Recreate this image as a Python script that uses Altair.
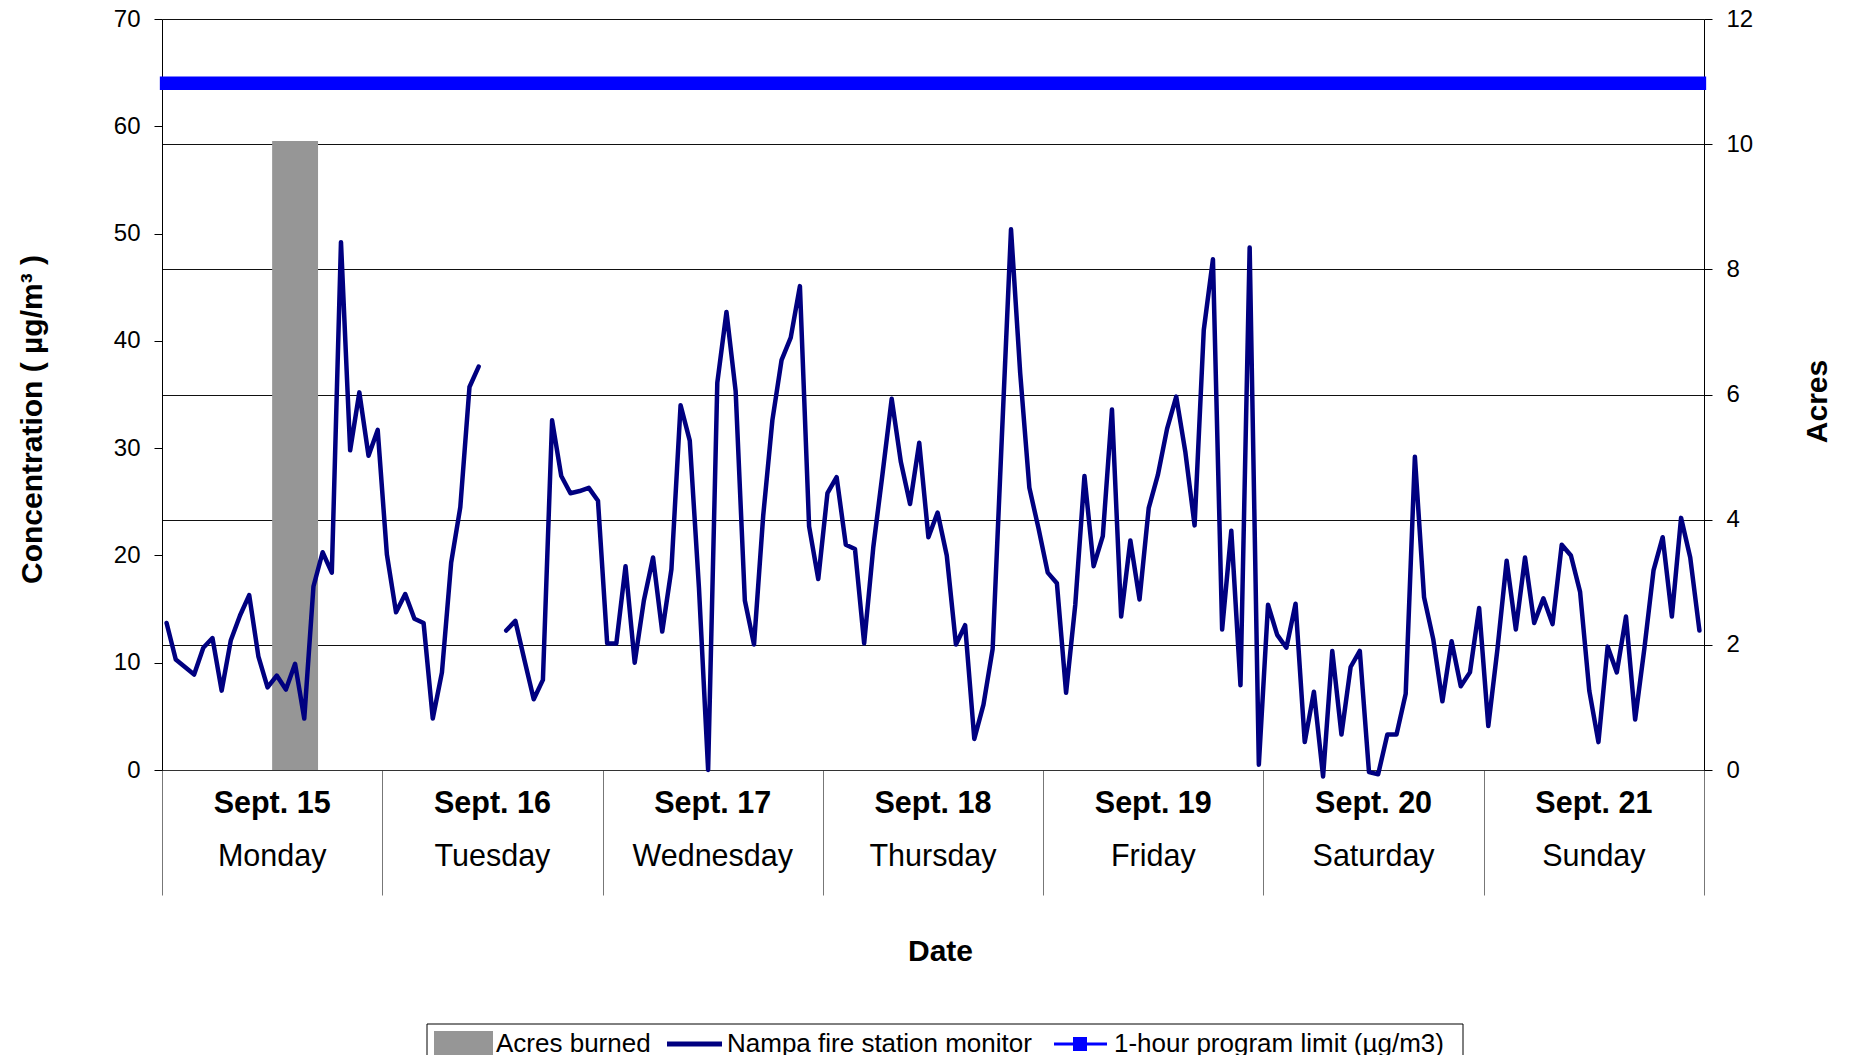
import altair as alt
import pandas as pd

# ---------------- data ----------------
monday = [13.7, 10.3, 9.6, 8.9, 11.4, 12.3, 7.4, 12.1, 14.4, 16.3, 10.6, 7.7,
          8.8, 7.5, 9.9, 4.8, 17.1, 20.3, 18.4, 49.2, 29.8, 35.2, 29.3, 31.7]
tuesday = [20.1, 14.7, 16.4, 14.1, 13.7, 4.8, 9.1, 19.3, 24.5, 35.7, 37.6, None,
           None, 13.0, 13.9, 10.2, 6.6, 8.4, 32.6, 27.4, 25.8, 26.0, 26.3, 25.1]
wednesday = [11.8, 11.8, 19.0, 10.0, 15.8, 19.8, 12.9, 18.7, 34.0, 30.7, 17.0, 0.0,
             36.1, 42.7, 35.3, 15.8, 11.7, 23.7, 32.6, 38.2, 40.3, 45.1, 22.7, 17.8]
thursday = [25.8, 27.3, 21.0, 20.6, 11.8, 20.8, 27.6, 34.6, 28.7, 24.8, 30.5, 21.7,
            24.0, 20.0, 11.7, 13.5, 2.9, 6.1, 11.3, 31.0, 50.4, 37.0, 26.3, 22.5]
friday = [18.4, 17.4, 7.2, 15.4, 27.4, 19.0, 21.8, 33.6, 14.3, 21.4, 15.9, 24.4,
          27.5, 31.8, 34.8, 29.6, 22.8, 41.0, 47.6, 13.1, 22.3, 7.9, 48.7, 0.5]
saturday = [15.4, 12.6, 11.4, 15.5, 2.6, 7.3, -0.6, 11.1, 3.3, 9.6, 11.1, -0.2,
            -0.4, 3.3, 3.3, 7.1, 29.2, 16.1, 12.2, 6.4, 12.0, 7.8, 9.1, 15.1]
sunday = [4.1, 11.3, 19.5, 13.1, 19.8, 13.7, 16.0, 13.6, 21.0, 20.0, 16.6, 7.4,
          2.6, 11.5, 9.1, 14.3, 4.7, 11.3, 18.6, 21.7, 14.3, 23.5, 19.8, 13.0]

dates = ["Sept. 15", "Sept. 16", "Sept. 17", "Sept. 18", "Sept. 19", "Sept. 20", "Sept. 21"]
weekdays = ["Monday", "Tuesday", "Wednesday", "Thursday", "Friday", "Saturday", "Sunday"]

burn_start_hour = 12
burn_end_hour = 17
acres_burned = 10.05

limit_value = 64

conc_ticks = [0, 10, 20, 30, 40, 50, 60, 70]
acres_ticks = [0, 2, 4, 6, 8, 10, 12]

legend_labels = ["Acres burned", "Nampa fire station monitor", "1-hour program limit (µg/m3)"]

# ---------------- tables ----------------
conc = monday + tuesday + wednesday + thursday + friday + saturday + sunday
n_hours = len(conc)
df_line = pd.DataFrame({"t": [h + 0.5 for h in range(n_hours)],
                        "conc": pd.to_numeric(pd.Series(conc), errors="coerce")})
seg = []
s = 0
prev_missing = False
for v in df_line["conc"]:
    if pd.isna(v):
        prev_missing = True
    else:
        if prev_missing:
            s += 1
        prev_missing = False
    seg.append(s)
df_line["seg"] = seg
df_line = df_line.dropna()

df_burn = pd.DataFrame({"start": [burn_start_hour], "end": [burn_end_hour],
                        "base": [0], "acres": [acres_burned]})
df_limit = pd.DataFrame({"x0": [df_line["t"].min()], "x1": [df_line["t"].max()],
                         "limit": [limit_value]})
df_days = pd.DataFrame({"center": [24 * i + 12 for i in range(len(dates))],
                        "date": dates, "weekday": weekdays})
one = pd.DataFrame({"a": [0]})

FONT = "Liberation Sans, Arial, sans-serif"
W, H = 1542, 751

xscale = alt.Scale(domain=[0, n_hours], nice=False, zero=False)
xaxis = alt.Axis(values=[24 * i for i in range(8)], tickSize=125, labels=False,
                 grid=False, domainColor="#333333", tickColor="#777777", tickWidth=1,
                 title="Date", titleFont=FONT, titleFontSize=30, titleFontWeight="bold",
                 titleColor="black", titleX=778, titleY=181, titleBaseline="middle")

conc_scale = alt.Scale(domain=[0, 70], nice=False, zero=True)
conc_axis = alt.Axis(orient="left", values=conc_ticks, grid=False, tickSize=8,
                     tickColor="black", domainColor="black", labelFont=FONT,
                     labelFontSize=24, labelColor="black", labelPadding=14,
                     title="Concentration ( µg/m³ )", titleFont=FONT, titleFontSize=30,
                     titleFontWeight="bold", titleColor="black", titleAngle=270,
                     titleX=-130, titleY=400, titleAlign="center", titleBaseline="middle")

acres_scale = alt.Scale(domain=[0, 12], nice=False, zero=True)
acres_axis = alt.Axis(orient="right", values=acres_ticks, grid=True, gridColor="#111111",
                      gridWidth=1, tickSize=8, tickColor="black", domainColor="black",
                      labelFont=FONT, labelFontSize=24, labelColor="black", labelPadding=14,
                      title="Acres", titleFont=FONT, titleFontSize=30, titleFontWeight="bold",
                      titleColor="black", titleAngle=270, titleX=113, titleY=382,
                      titleAlign="center", titleBaseline="middle")

# ---------------- acres group (right axis) ----------------
bar = alt.Chart(df_burn).mark_rect(color="#969696").encode(
    x=alt.X("start:Q", scale=xscale, axis=xaxis),
    x2="end:Q",
    y=alt.Y("acres:Q", scale=acres_scale, axis=acres_axis),
    y2="base:Q",
)
acres_group = alt.layer(bar)

# ---------------- concentration group (left axis) ----------------
line = alt.Chart(df_line).mark_line(color="#000080", strokeWidth=4.5,
                                    strokeJoin="round", strokeCap="round").encode(
    x=alt.X("t:Q", scale=xscale, axis=xaxis),
    y=alt.Y("conc:Q", scale=conc_scale, axis=conc_axis),
    detail="seg:N",
)
limit = alt.Chart(df_limit).mark_rule(color="#0000FF", strokeWidth=13.5,
                                      strokeCap="square").encode(
    x=alt.X("x0:Q", scale=xscale, axis=xaxis),
    x2="x1:Q",
    y=alt.Y("limit:Q", scale=conc_scale, axis=conc_axis),
)
conc_group = alt.layer(line, limit)

# ---------------- day labels ----------------
date_text = alt.Chart(df_days).mark_text(font=FONT, fontSize=30.5, fontWeight="bold",
                                         color="black", baseline="middle").encode(
    x=alt.X("center:Q", scale=xscale, axis=xaxis),
    y=alt.value(785),
    text="date:N",
)
weekday_text = alt.Chart(df_days).mark_text(font=FONT, fontSize=30.5, color="black",
                                            baseline="middle").encode(
    x=alt.X("center:Q", scale=xscale, axis=xaxis),
    y=alt.value(838),
    text="weekday:N",
)

# ---------------- legend ----------------
leg_box = alt.Chart(one).mark_rect(fill="white", stroke="black", strokeWidth=1).encode(
    x=alt.value(265), x2=alt.value(1301), y=alt.value(1005), y2=alt.value(1100))
leg_sq = alt.Chart(one).mark_rect(color="#969696").encode(
    x=alt.value(272), x2=alt.value(331), y=alt.value(1012), y2=alt.value(1036))
leg_navy = alt.Chart(one).mark_rule(color="#000080", strokeWidth=5).encode(
    x=alt.value(505), x2=alt.value(560), y=alt.value(1025))
leg_blue = alt.Chart(one).mark_rule(color="#0000FF", strokeWidth=3).encode(
    x=alt.value(892), x2=alt.value(945), y=alt.value(1025))
leg_blue_pt = alt.Chart(one).mark_square(color="#0000FF", size=196, opacity=1).encode(
    x=alt.value(918), y=alt.value(1025))
leg_texts = []
for label, xpos in zip(legend_labels, [334, 565, 952]):
    leg_texts.append(
        alt.Chart(pd.DataFrame({"label": [label]})).mark_text(
            font=FONT, fontSize=26, color="black", align="left", baseline="middle"
        ).encode(x=alt.value(xpos), y=alt.value(1025), text="label:N")
    )

chart = alt.layer(
    acres_group, conc_group, date_text, weekday_text,
    leg_box, leg_sq, leg_navy, leg_blue, leg_blue_pt, *leg_texts
).resolve_scale(y="independent").properties(
    width=W, height=H,
    autosize=alt.AutoSizeParams(type="none"),
    padding={"left": 154, "top": 11, "right": 138, "bottom": 285},
    background="white",
).configure_view(stroke=None)

chart.save("out.html", embed_options={"renderer": "svg", "actions": False})
